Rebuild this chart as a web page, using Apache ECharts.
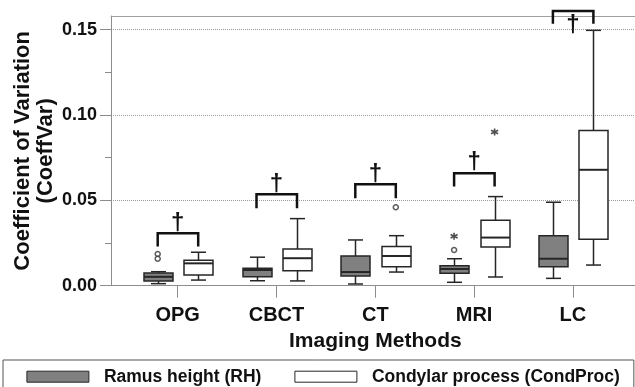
<!DOCTYPE html>
<html><head><meta charset="utf-8">
<script src="https://cdn.jsdelivr.net/npm/echarts@6/dist/echarts.min.js"></script>
<style>html,body{margin:0;padding:0;background:#fff}#c{width:635px;height:387px}</style>
</head><body><div id="c"></div>
<script>
// ---- data ----
const categories = ['OPG', 'CBCT', 'CT', 'MRI', 'LC'];
// [min, Q1, median, Q3, max]
const ramusBox = [
  [0.0012, 0.0028, 0.0052, 0.0074, 0.0082],
  [0.0029, 0.0053, 0.0092, 0.0102, 0.0167],
  [0.0010, 0.0057, 0.0080, 0.0174, 0.0268],
  [0.0020, 0.0073, 0.0098, 0.0117, 0.0158],
  [0.0043, 0.0111, 0.0158, 0.0292, 0.0489]
];
const condBox = [
  [0.0033, 0.0063, 0.0131, 0.0149, 0.0196],
  [0.0028, 0.0088, 0.0161, 0.0215, 0.0393],
  [0.0080, 0.0111, 0.0174, 0.0229, 0.0293],
  [0.0051, 0.0227, 0.0282, 0.0384, 0.0522],
  [0.0121, 0.0272, 0.0679, 0.0909, 0.1496]
];
const ramusCircles = [[0, 0.0186], [0, 0.0158], [3, 0.0209]];
const ramusStars = [[3, 0.0290]];
const condCircles = [[2, 0.0460]];
const condStars = [[3, 0.0900]];
// [bracket top, leg bottom, dagger bottom]
const brackets = [
  [0.0307, 0.0229, 0.0317],
  [0.0536, 0.0454, 0.0547],
  [0.0595, 0.0513, 0.0604],
  [0.0659, 0.0581, 0.0675],
  [0.1610, 0.1535, 0.1476]
];
const yMajorTicks = [0, 0.05, 0.10, 0.15];
const yMinorTicks = [0.025, 0.075, 0.125];
const seriesNames = ['Ramus height (RH)', 'Condylar process (CondProc)'];

// ---- styles ----
const AXIS_GRAY = '#8c8c8c';
const DARK = '#262626';
const RH_FILL = '#808080';
const FONT = '"Liberation Sans", Arial, sans-serif';
const RH_OFF = -20, CP_OFF = 20.5;
const YMAX = 0.158;

function boxRender(offset, fill) {
  return function (params, api) {
    const c = api.value(0);
    const x = Math.round(api.coord([c, 0])[0] + offset) + 0.5;
    const py = i => api.coord([c, api.value(i)])[1];
    const yMin = py(1), yQ1 = py(2), yMed = py(3), yQ3 = py(4), yMax = py(5);
    const bw = 29, cw = 15;
    const ls = { stroke: DARK, lineWidth: 1.5 };
    return {
      type: 'group',
      children: [
        { type: 'line', shape: { x1: x, y1: yQ3, x2: x, y2: yMax }, style: ls },
        { type: 'line', shape: { x1: x - cw / 2, y1: yMax, x2: x + cw / 2, y2: yMax }, style: ls },
        { type: 'line', shape: { x1: x, y1: yQ1, x2: x, y2: yMin }, style: ls },
        { type: 'line', shape: { x1: x - cw / 2, y1: yMin, x2: x + cw / 2, y2: yMin }, style: ls },
        { type: 'rect', shape: { x: x - bw / 2, y: yQ3, width: bw, height: yQ1 - yQ3 }, style: { fill: fill, stroke: DARK, lineWidth: 1.5 } },
        { type: 'line', shape: { x1: x - bw / 2, y1: yMed, x2: x + bw / 2, y2: yMed }, style: { stroke: DARK, lineWidth: 2 } }
      ]
    };
  };
}

function bracketRender(params, api) {
  const c = api.value(0);
  const xc = api.coord([c, 0])[0];
  const yTop = api.coord([c, api.value(1)])[1];
  const yLeg = api.coord([c, api.value(2)])[1];
  const yDag = api.coord([c, api.value(3)])[1];
  const xl = xc + RH_OFF, xr = xc + CP_OFF;
  return {
    type: 'group',
    children: [
      { type: 'polyline', shape: { points: [[xl, yLeg], [xl, yTop], [xr, yTop], [xr, yLeg]] },
        style: { stroke: '#111', lineWidth: 2.5, fill: null } },
      { type: 'text', x: xc, y: yDag + 4,
        style: { text: '\u2020', font: 'bold 24px ' + FONT, fill: '#111', align: 'center', verticalAlign: 'bottom' } }
    ]
  };
}

const asterisk = 'path://M0,-5L0,5M-4.33,-2.5L4.33,2.5M-4.33,2.5L4.33,-2.5';

const chart = echarts.init(document.getElementById('c'), null, { renderer: 'canvas' });
chart.setOption({
  animation: false,
  backgroundColor: '#fff',
  textStyle: { fontFamily: FONT },
  grid: [
    { left: 111, right: 0, top: 16, bottom: 101.3, outerBoundsMode: 'none', containLabel: false },
    { left: 128.3, width: 494, top: 16, bottom: 101.3, outerBoundsMode: 'none', containLabel: false },
    { left: 111, right: 0, top: 16, bottom: 101.3, outerBoundsMode: 'none', containLabel: false }
  ],
  legend: {
    data: [
      { name: seriesNames[0], icon: 'rect', itemStyle: { color: RH_FILL, borderColor: DARK, borderWidth: 1 } },
      { name: seriesNames[1], icon: 'rect', itemStyle: { color: '#fff', borderColor: DARK, borderWidth: 1 } }
    ],
    left: 3, top: 360,
    padding: [6.7, 14, 30, 23.4],
    itemWidth: 62, itemHeight: 11, itemGap: 33,
    borderColor: '#555', borderWidth: 1,
    selectedMode: false,
    textStyle: { fontFamily: FONT, fontWeight: 'bold', fontSize: 17.5, color: '#111', lineHeight: 20, padding: [0, 0, 0, 10] }
  },
  xAxis: [
    { type: 'value', gridIndex: 0, min: 0, max: 1, position: 'bottom',
      axisLine: { show: true, lineStyle: { color: AXIS_GRAY, width: 1 } },
      axisTick: { show: false }, axisLabel: { show: false }, splitLine: { show: false } },
    { type: 'category', gridIndex: 1, data: categories, position: 'bottom',
      axisLine: { show: false },
      axisTick: { show: true, alignWithLabel: true, length: 12, lineStyle: { color: AXIS_GRAY, width: 1 } },
      axisLabel: { fontFamily: FONT, fontWeight: 'bold', fontSize: 20, color: '#111', margin: 19.5 },
      name: 'Imaging Methods', nameLocation: 'middle', nameGap: 45,
      nameTextStyle: { fontFamily: FONT, fontWeight: 'bold', fontSize: 21, color: '#111' } },
    { type: 'value', gridIndex: 0, min: 0, max: 1, position: 'top',
      axisLine: { show: true, lineStyle: { color: '#a0a0a0', width: 1 } },
      axisTick: { show: false }, axisLabel: { show: false }, splitLine: { show: false } },
    { type: 'value', gridIndex: 2, min: 0, max: 1, show: false }
  ],
  yAxis: [
    { type: 'value', gridIndex: 0, min: 0, max: YMAX, interval: 0.025, position: 'left',
      axisLine: { show: true, lineStyle: { color: AXIS_GRAY, width: 1 } },
      axisTick: { show: true, length: 11, customValues: yMajorTicks, lineStyle: { color: AXIS_GRAY } },
      axisLabel: { customValues: yMajorTicks, formatter: v => v.toFixed(2), fontFamily: FONT, fontWeight: 'bold', fontSize: 18, color: '#111', margin: 14, padding: [6, 0, 0, 0] },
      splitLine: { show: true, lineStyle: { color: '#9a9a9a', type: [1, 1], width: 1 } },
      name: 'Coefficient of Variation\n(CoeffVar)', nameLocation: 'middle', nameGap: 53.5, nameMoveOverlap: false,
      nameTextStyle: { fontFamily: FONT, fontWeight: 'bold', fontSize: 22, color: '#111', lineHeight: 23, align: 'center' } },
    { type: 'value', gridIndex: 2, min: 0, max: YMAX, position: 'left',
      axisLine: { show: false },
      axisTick: { show: true, length: 6, customValues: yMinorTicks, lineStyle: { color: AXIS_GRAY } },
      axisLabel: { show: false }, splitLine: { show: false } },
    { type: 'value', gridIndex: 1, min: 0, max: YMAX, show: false }
  ],
  series: [
    { name: seriesNames[0], type: 'custom', xAxisIndex: 1, yAxisIndex: 2,
      itemStyle: { color: RH_FILL, borderColor: DARK },
      renderItem: boxRender(RH_OFF, RH_FILL),
      encode: { x: 0, y: [1, 2, 3, 4, 5] },
      data: ramusBox.map((b, i) => [i].concat(b)) },
    { name: seriesNames[1], type: 'custom', xAxisIndex: 1, yAxisIndex: 2,
      itemStyle: { color: '#fff', borderColor: DARK },
      renderItem: boxRender(CP_OFF, '#fff'),
      encode: { x: 0, y: [1, 2, 3, 4, 5] },
      data: condBox.map((b, i) => [i].concat(b)) },
    { name: 'RH outliers', type: 'scatter', xAxisIndex: 1, yAxisIndex: 2,
      symbol: 'circle', symbolSize: 5, symbolOffset: [RH_OFF, 0],
      itemStyle: { color: '#fff', borderColor: '#333', borderWidth: 1.5 }, data: ramusCircles },
    { name: 'CP outliers', type: 'scatter', xAxisIndex: 1, yAxisIndex: 2,
      symbol: 'circle', symbolSize: 5, symbolOffset: [CP_OFF, 0],
      itemStyle: { color: '#fff', borderColor: '#333', borderWidth: 1.5 }, data: condCircles },
    { name: 'RH extremes', type: 'scatter', xAxisIndex: 1, yAxisIndex: 2,
      symbol: asterisk, symbolSize: 7, symbolOffset: [RH_OFF, 0],
      itemStyle: { color: '#222', borderColor: '#222', borderWidth: 1.6 }, data: ramusStars },
    { name: 'CP extremes', type: 'scatter', xAxisIndex: 1, yAxisIndex: 2,
      symbol: asterisk, symbolSize: 7, symbolOffset: [CP_OFF, 0],
      itemStyle: { color: '#222', borderColor: '#222', borderWidth: 1.6 }, data: condStars },
    { name: 'Significance', type: 'custom', xAxisIndex: 1, yAxisIndex: 2, clip: false,
      renderItem: bracketRender,
      encode: { x: 0, y: [1, 2, 3] },
      data: brackets.map((b, i) => [i].concat(b)) }
  ]
});
</script>
</body></html>
